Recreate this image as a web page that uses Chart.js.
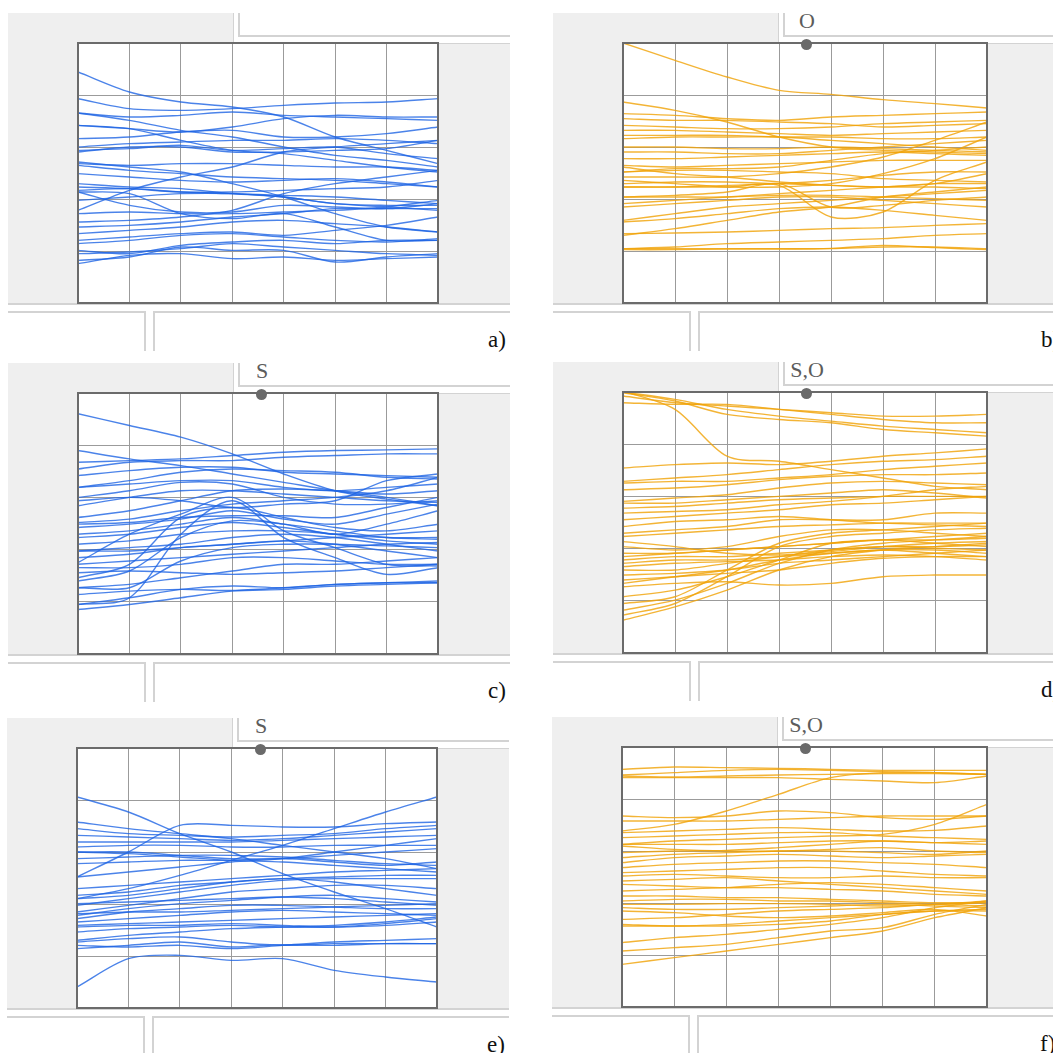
<!DOCTYPE html>
<html>
<head>
<meta charset="utf-8">
<script src="https://cdn.jsdelivr.net/npm/chart.js@4.4.1/dist/chart.umd.min.js"></script>
<style>
    html, body { margin: 0; padding: 0; background: #fff; }
    #page { position: relative; width: 1053px; height: 1053px; overflow: hidden; background: #fff;
            font-family: "Liberation Serif", "DejaVu Serif", serif; }
    .gray { position: absolute; background: #efefef; }
    .ui { position: absolute; background: #d3d3d3; }
    .frame { position: absolute; border: 2px solid #6b6b6b; box-sizing: border-box; pointer-events: none; }
    .dot { position: absolute; width: 11px; height: 11px; border-radius: 50%; background: #6a6a6a; }
    .tag { position: absolute; font-size: 22px; color: #5c5c5c; line-height: 1; transform: translateX(-50%); white-space: nowrap; }
    .letter { position: absolute; font-size: 23px; color: #111; line-height: 1; }
    canvas { position: absolute; background: #fff; }
</style>
</head>
<body>
<div id="page"></div>
<script>
    // x positions (grid columns) and row grid lines (depth units, 0 at top)
    const xCols = [0, 1, 2, 3, 4, 5, 6, 7];
    const rowTicks = [8, 164, 320, 476, 632, 788];

    const blue = 'rgba(30, 100, 228, 0.8)';
    const orange = 'rgba(240, 163, 10, 0.82)';

    // a) depth of each curve at every column
    const linesA = [
        [95, 155, 185, 200, 230, 290, 330, 370],
        [175, 205, 210, 205, 195, 188, 185, 175],
        [218, 240, 270, 290, 320, 345, 360, 380],
        [218, 230, 225, 215, 225, 230, 235, 240],
        [255, 265, 275, 260, 235, 225, 230, 230],
        [255, 265, 300, 330, 340, 360, 380, 395],
        [295, 290, 275, 270, 290, 290, 280, 260],
        [320, 310, 305, 300, 300, 295, 300, 310],
        [330, 325, 315, 330, 325, 320, 340, 355],
        [335, 320, 320, 335, 335, 330, 325, 300],
        [365, 380, 395, 430, 470, 520, 560, 575],
        [370, 375, 370, 370, 375, 380, 380, 390],
        [375, 390, 400, 410, 415, 420, 430, 440],
        [400, 410, 420, 425, 420, 415, 425, 440],
        [430, 440, 445, 460, 470, 490, 500, 510],
        [440, 445, 455, 455, 450, 445, 440, 420],
        [450, 445, 455, 460, 465, 470, 480, 490],
        [455, 495, 515, 515, 495, 500, 505, 490],
        [480, 470, 460, 460, 470, 490, 495, 495],
        [510, 450, 410, 380, 335, 320, 310, 300],
        [520, 515, 520, 520, 515, 510, 500, 480],
        [545, 540, 530, 510, 460, 430, 410, 390],
        [560, 555, 545, 530, 520, 505, 505, 505],
        [580, 570, 560, 545, 540, 550, 560, 575],
        [600, 590, 580, 575, 585, 570, 555, 530],
        [610, 600, 585, 580, 590, 600, 605, 595],
        [640, 635, 625, 610, 620, 630, 640, 645],
        [660, 650, 620, 630, 630, 665, 650, 640],
        [670, 645, 640, 655, 650, 660, 655, 650],
        [455, 460, 520, 535, 520, 560, 600, 600],
        [630, 640, 615, 605, 600, 610, 600, 600]
    ];

    // b)
    const linesB = [
        [8, 60, 110, 150, 162, 178, 190, 203],
        [185, 210, 245, 290, 320, 330, 335, 340],
        [220, 225, 235, 240, 230, 225, 220, 215],
        [235, 240, 240, 245, 250, 260, 255, 250],
        [255, 260, 265, 265, 260, 250, 245, 240],
        [270, 270, 275, 280, 285, 280, 275, 270],
        [285, 285, 285, 290, 290, 295, 295, 290],
        [295, 290, 290, 290, 300, 310, 320, 330],
        [320, 320, 325, 325, 320, 325, 330, 335],
        [335, 335, 340, 340, 330, 320, 310, 300],
        [355, 355, 350, 345, 340, 335, 340, 345],
        [375, 380, 375, 370, 365, 360, 360, 360],
        [395, 385, 385, 380, 360, 340, 330, 320],
        [380, 400, 410, 425, 435, 440, 440, 445],
        [410, 410, 410, 400, 380, 350, 300, 245],
        [420, 430, 440, 440, 430, 400, 355, 290],
        [430, 425, 425, 430, 435, 440, 430, 430],
        [440, 440, 435, 430, 420, 405, 395, 395],
        [440, 440, 440, 435, 530, 515, 420, 365],
        [470, 465, 455, 430, 500, 495, 480, 470],
        [470, 470, 470, 465, 465, 470, 475, 480],
        [490, 480, 470, 460, 450, 440, 430, 400],
        [500, 490, 480, 470, 470, 480, 490, 500],
        [540, 520, 500, 490, 480, 470, 460, 450],
        [545, 535, 520, 505, 500, 510, 525, 540],
        [585, 565, 540, 515, 500, 470, 455, 440],
        [580, 578, 575, 570, 565, 562, 555, 550],
        [625, 620, 610, 605, 600, 595, 585, 580],
        [625, 625, 625, 625, 625, 620, 620, 625],
        [628, 628, 626, 626, 624, 615, 622, 628],
        [395, 390, 390, 395, 400, 415, 420, 425]
    ];

    // c)
    const linesC = [
        [70, 105, 140, 190, 250, 300, 325, 345],
        [180, 205, 225, 250, 275, 300, 320, 345],
        [215, 210, 205, 195, 185, 180, 178, 175],
        [235, 215, 210, 210, 200, 195, 190, 190],
        [255, 240, 230, 230, 245, 250, 255, 260],
        [290, 270, 245, 235, 240, 245, 260, 265],
        [290, 280, 270, 270, 290, 300, 290, 280],
        [320, 300, 275, 280, 320, 340, 340, 330],
        [345, 320, 300, 300, 310, 320, 330, 335],
        [380, 360, 330, 300, 295, 300, 310, 300],
        [395, 385, 360, 340, 330, 320, 300, 260],
        [400, 395, 380, 375, 375, 380, 350, 320],
        [410, 400, 385, 360, 385, 400, 370, 340],
        [430, 420, 400, 380, 400, 430, 400, 360],
        [440, 430, 410, 395, 410, 430, 440, 440],
        [515, 430, 370, 320, 420, 470, 520, 525],
        [640, 620, 430, 330, 440, 500, 550, 530],
        [560, 520, 380, 350, 380, 410, 420, 400],
        [570, 540, 440, 390, 400, 420, 440, 445],
        [460, 450, 430, 420, 420, 430, 450, 460],
        [480, 470, 460, 440, 430, 440, 460, 480],
        [480, 480, 470, 460, 450, 460, 480, 500],
        [500, 490, 470, 460, 450, 440, 430, 420],
        [520, 510, 500, 490, 480, 470, 460, 455],
        [530, 530, 520, 500, 500, 510, 520, 520],
        [545, 540, 545, 550, 545, 540, 530, 520],
        [590, 580, 560, 540, 520, 520, 510, 500],
        [610, 600, 595, 598, 590, 580, 575, 570],
        [640, 620, 595, 585, 590, 580, 575, 575],
        [655, 640, 620, 600, 595, 585, 580, 575],
        [590, 590, 510, 470, 460, 460, 465, 470],
        [330, 320, 330, 350, 340, 330, 270, 250]
    ];

    // d)
    const linesD = [
        [8, 30, 60, 80, 95, 110, 120, 130],
        [20, 40, 50, 60, 70, 80, 80, 75],
        [40, 45, 45, 60, 75, 90, 100, 100],
        [10, 35, 75, 90, 100, 120, 130, 140],
        [5, 60, 200, 215, 240, 265, 290, 300],
        [235, 225, 220, 225, 215, 200, 190, 178],
        [275, 265, 255, 240, 225, 215, 210, 200],
        [280, 275, 275, 265, 255, 240, 230, 220],
        [300, 295, 285, 270, 260, 255, 255, 250],
        [335, 325, 315, 295, 280, 275, 280, 285],
        [340, 340, 330, 320, 310, 300, 310, 325],
        [355, 350, 340, 330, 325, 320, 320, 320],
        [370, 365, 360, 345, 335, 320, 300, 290],
        [390, 380, 370, 360, 345, 340, 330, 320],
        [410, 395, 390, 380, 390, 400, 405, 410],
        [430, 420, 410, 390, 390, 390, 370, 370],
        [440, 430, 420, 410, 405, 400, 400, 400],
        [470, 480, 470, 440, 420, 420, 430, 440],
        [490, 490, 480, 470, 460, 450, 440, 430],
        [500, 490, 480, 470, 460, 450, 460, 470],
        [510, 500, 500, 490, 480, 470, 475, 480],
        [520, 510, 510, 500, 490, 480, 490, 500],
        [530, 520, 515, 510, 500, 495, 500, 510],
        [540, 540, 520, 500, 480, 470, 470, 465],
        [555, 550, 540, 520, 510, 500, 490, 480],
        [570, 560, 550, 540, 520, 505, 500, 500],
        [580, 560, 540, 510, 490, 480, 480, 490],
        [590, 580, 575, 585, 580, 560, 555, 555],
        [620, 600, 560, 510, 460, 450, 450, 445],
        [640, 620, 540, 460, 430, 420, 410, 400],
        [660, 630, 580, 520, 480, 460, 450, 440],
        [690, 650, 600, 540, 500, 480, 470, 460],
        [675, 640, 560, 470, 440, 430, 420, 415],
        [455, 470, 490, 495, 485, 470, 460, 455]
    ];

    // e)
    const linesE = [
        [155, 200, 265, 320, 385, 440, 490, 545],
        [460, 430, 390, 345, 300, 250, 200, 155],
        [230, 250, 265, 280, 300, 320, 340, 370],
        [395, 320, 240, 240, 245, 245, 235, 230],
        [250, 265, 270, 275, 270, 265, 250, 240],
        [270, 275, 280, 285, 280, 270, 260, 250],
        [290, 290, 290, 290, 285, 280, 275, 270],
        [305, 300, 300, 305, 305, 300, 300, 300],
        [320, 320, 330, 340, 340, 330, 320, 310],
        [320, 325, 335, 345, 350, 360, 370, 380],
        [340, 335, 330, 330, 335, 345, 355, 360],
        [355, 350, 345, 345, 340, 350, 360, 350],
        [395, 380, 365, 350, 340, 320, 300, 280],
        [430, 420, 410, 400, 390, 380, 375, 370],
        [450, 440, 420, 410, 400, 410, 430, 450],
        [460, 450, 430, 410, 400, 395, 390, 390],
        [480, 460, 440, 420, 405, 400, 400, 400],
        [500, 480, 460, 440, 430, 420, 420, 430],
        [510, 490, 475, 465, 455, 450, 460, 470],
        [520, 500, 490, 480, 480, 485, 490, 490],
        [530, 520, 510, 500, 495, 500, 505, 510],
        [540, 535, 530, 525, 520, 515, 510, 505],
        [545, 540, 540, 535, 540, 545, 540, 530],
        [560, 550, 545, 540, 545, 545, 535, 520],
        [585, 570, 560, 550, 545, 540, 530, 515],
        [590, 580, 575, 590, 600, 595, 595, 595],
        [600, 605, 600, 610, 600, 590, 585, 580],
        [610, 600, 590, 605, 598, 600, 595, 595],
        [725, 640, 630, 645, 640, 675, 695, 710],
        [475, 470, 465, 460, 455, 460, 470, 480],
        [505, 500, 500, 495, 490, 485, 480, 475]
    ];

    // f)
    const linesF = [
        [75, 68, 70, 72, 75, 78, 78, 78],
        [92, 85, 78, 75, 78, 82, 85, 90],
        [100, 100, 100, 100, 105, 110, 115, 95],
        [95, 98, 95, 92, 90, 88, 88, 90],
        [260, 240, 200, 150, 100, 85, 85, 90],
        [215, 220, 215, 200, 205, 220, 225, 215],
        [300, 290, 285, 280, 275, 270, 240, 180],
        [230, 230, 230, 225, 220, 215, 215, 215],
        [265, 260, 255, 250, 255, 260, 258, 245],
        [280, 275, 270, 265, 265, 275, 280, 285],
        [300, 300, 300, 295, 290, 290, 295, 300],
        [305, 315, 320, 320, 315, 310, 320, 325],
        [325, 320, 318, 310, 300, 290, 295, 290],
        [340, 330, 325, 320, 320, 325, 330, 320],
        [355, 340, 335, 330, 335, 340, 335, 330],
        [370, 360, 355, 350, 350, 355, 360, 370],
        [385, 380, 375, 370, 370, 380, 390, 395],
        [395, 390, 395, 400, 400, 395, 400, 400],
        [410, 405, 400, 410, 420, 430, 440, 450],
        [420, 425, 430, 430, 435, 440, 450, 455],
        [440, 435, 430, 420, 415, 420, 430, 440],
        [455, 455, 460, 460, 465, 470, 475, 475],
        [470, 465, 465, 470, 470, 475, 480, 485],
        [480, 480, 478, 478, 480, 485, 480, 470],
        [490, 495, 495, 490, 485, 480, 485, 490],
        [525, 520, 510, 500, 495, 490, 480, 475],
        [540, 545, 540, 530, 520, 510, 500, 495],
        [545, 545, 545, 540, 530, 510, 500, 500],
        [595, 580, 570, 555, 540, 520, 490, 470],
        [620, 610, 600, 580, 560, 550, 510, 480],
        [660, 640, 620, 600, 580, 560, 520, 490],
        [500, 505, 515, 520, 515, 505, 495, 515]
    ];

    const panels = [
        { left: 78,  top: 43,  w: 360, h: 260, tag: '',    letter: 'a)', letterX: 410, color: blue,   lines: linesA },
        { left: 623, top: 43,  w: 364, h: 260, tag: 'O',   letter: 'b)', letterX: 418, color: orange, lines: linesB },
        { left: 78,  top: 393, w: 360, h: 261, tag: 'S',   letter: 'c)', letterX: 410, color: blue,   lines: linesC },
        { left: 623, top: 392, w: 364, h: 261, tag: 'S,O', letter: 'd)', letterX: 418, color: orange, lines: linesD },
        { left: 77,  top: 748, w: 360, h: 260, tag: 'S',   letter: 'e)', letterX: 410, color: blue,   lines: linesE },
        { left: 622, top: 747, w: 365, h: 260, tag: 'S,O', letter: 'f)', letterX: 418, color: orange, lines: linesF }
    ];

    const page = document.getElementById('page');

    function box(cls, x, y, w, h) {
        const el = document.createElement('div');
        el.className = cls;
        el.style.left = x + 'px';
        el.style.top = y + 'px';
        el.style.width = w + 'px';
        el.style.height = h + 'px';
        page.appendChild(el);
        return el;
    }

    function drawDecor(p) {
        const L = p.left, T = p.top, W = p.w, H = p.h;
        // gray background of the viewer
        box('gray', L - 70, T, 502, H);
        box('gray', L - 70, T - 30, 225, 30);
        // light separator lines
        box('ui', L + 155, T - 30, 1, 30);
        box('ui', L + 160, T - 30, 2, 23);
        box('ui', L + 160, T - 8, 272, 2);
        box('ui', L + W, T, 432 - W, 1);
        box('ui', L - 70, T + H, 502, 2);
        box('ui', L - 70, T + H + 8, 136, 2);
        box('ui', L + 66, T + H + 8, 2, 40);
        box('ui', L + 75, T + H + 8, 2, 40);
        box('ui', L + 75, T + H + 8, 357, 2);
    }

    function drawOverlay(p) {
        const L = p.left, T = p.top;
        box('frame', L - 1, T - 1, p.w + 2, p.h + 2);
        if (p.tag) {
            const t = document.createElement('div');
            t.className = 'tag';
            t.textContent = p.tag;
            t.style.left = (L + 184) + 'px';
            t.style.top = (T - 33) + 'px';
            page.appendChild(t);
            box('dot', L + 178, T - 4, 11, 11);
        }
        const lt = document.createElement('div');
        lt.className = 'letter';
        lt.textContent = p.letter;
        lt.style.left = (L + p.letterX) + 'px';
        lt.style.top = (T + p.h + 25) + 'px';
        page.appendChild(lt);
    }

    function makeChart(p) {
        const canvas = document.createElement('canvas');
        canvas.width = p.w;
        canvas.height = p.h;
        canvas.style.left = p.left + 'px';
        canvas.style.top = p.top + 'px';
        canvas.style.width = p.w + 'px';
        canvas.style.height = p.h + 'px';
        page.appendChild(canvas);

        const gridStyle = { color: '#9b9b9b', lineWidth: 1, drawTicks: false };

        new Chart(canvas, {
            type: 'line',
            data: {
                labels: xCols,
                datasets: p.lines.map(ys => ({
                    data: ys,
                    borderColor: p.color,
                    borderWidth: 1.4,
                    pointRadius: 0,
                    tension: 0.3,
                    fill: false
                }))
            },
            options: {
                responsive: false,
                animation: false,
                events: [],
                devicePixelRatio: 1,
                layout: { padding: 0, autoPadding: false },
                plugins: { legend: { display: false }, tooltip: { enabled: false } },
                scales: {
                    x: {
                        type: 'category',
                        offset: false,
                        grid: gridStyle,
                        border: { display: false },
                        ticks: { display: false }
                    },
                    y: {
                        min: 8,
                        max: 788,
                        reverse: true,
                        afterBuildTicks: scale => { scale.ticks = rowTicks.map(v => ({ value: v })); },
                        grid: gridStyle,
                        border: { display: false },
                        ticks: { display: false }
                    }
                }
            }
        });
    }

    panels.forEach(drawDecor);
    panels.forEach(makeChart);
    panels.forEach(drawOverlay);
</script>
</body>
</html>
